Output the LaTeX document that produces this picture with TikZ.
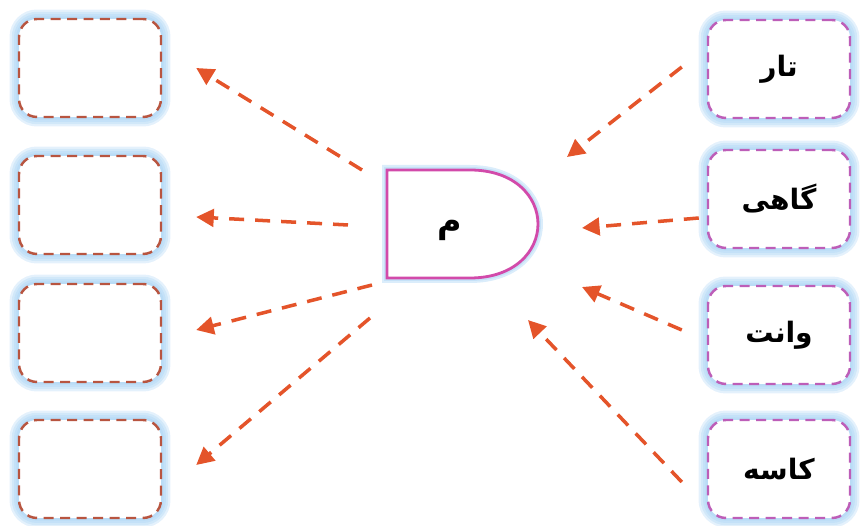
\documentclass[tikz,border=0pt]{standalone}
\usepackage{fontspec}
\newfontfamily\arabicfont[Script=Arabic]{DejaVu Sans}
\TeXXeTstate=1
\usetikzlibrary{arrows.meta, calc}
\definecolor{arrowc}{HTML}{E4542A}
\definecolor{lboxc}{HTML}{B85540}
\definecolor{rboxc}{HTML}{BD5EB8}
\definecolor{dc}{HTML}{D24AAA}
\definecolor{glowc}{HTML}{A6D2F4}
\tikzset{%
	glow/.style = { preaction={draw=glowc, draw opacity=0.3, line width=0.38cm, solid}, preaction={draw=glowc, draw opacity=0.3, line width=0.29cm, solid}, preaction={draw=glowc, draw opacity=0.3, line width=0.2cm, solid}, preaction={draw=glowc, draw opacity=0.35, line width=0.11cm, solid} },
	word/.style = { font=\arabicfont\bfseries\fontsize{16}{19}\selectfont },
	box/.style = { glow, fill=white, rounded corners=0.36cm, minimum width=2.84cm, minimum height=1.96cm, line width=1.4pt, dash pattern=on 0.2cm off 0.13cm },
	lbox/.style = { box, draw=lboxc },
	rbox/.style = { box, word, draw=rboxc },
	dshape/.style = { draw=dc, line width=1.6pt, fill=white, preaction={draw=glowc, draw opacity=0.4, line width=0.2cm}, preaction={draw=glowc, draw opacity=0.4, line width=0.12cm} },
	arr/.style = { arrowc, line width=2pt, dash pattern=on 0.3cm off 0.22cm, -{Triangle[length=10pt,width=10pt]} }
}
\begin{document}
\begin{tikzpicture}[x=0.02cm, y=-0.02cm]
	\useasboundingbox (0,0) rectangle (860,526);
	% 左侧空框
	\node[lbox] (l1) at (90,68) {};
	\node[lbox] (l2) at (90,205) {};
	\node[lbox] (l3) at (90,333) {};
	\node[lbox] (l4) at (90,469) {};
	% 右侧词框
	\node[rbox] (r1) at (779,69) {\beginR تار\endR};
	\node[rbox] (r2) at (779,199) {\beginR گاهی\endR};
	\node[rbox] (r3) at (779,335) {\beginR وانت\endR};
	\node[rbox] (r4) at (779,469) {\beginR کاسه\endR};
	% 中间形状
	\draw[dshape] (387,278) -- (387,170) -- (470,170) .. controls (515,170) and (538,197) .. (538,224) .. controls (538,251) and (515,278) .. (470,278) -- cycle;
	\node[word, font=\arabicfont\bfseries\fontsize{19}{22}\selectfont] (m) at (450,230) {\beginR م\endR};
	% 向左箭头
	\draw[arr] ($(m)+(-88,-60)$) -- ($(l1.east)+(34,0)$);
	\draw[arr] ($(m)+(-102,-5)$) -- ($(l2.east)+(34,12)$);
	\draw[arr] ($(m)+(-78,55)$) -- ($(l3.east)+(34,-3)$);
	\draw[arr] ($(m)+(-80,88)$) -- ($(l4.east)+(34,-4)$);
	% 向中间箭头
	\draw[arr] ($(r1.west)+(-25,-2)$) -- ($(m)+(117,-73)$);
	\draw[arr] ($(r2.west)+(-8,19)$) -- ($(m)+(132,-2)$);
	\draw[arr] ($(r3.west)+(-25,-5)$) -- ($(m)+(132,57)$);
	\draw[arr] ($(r4.west)+(-25,13)$) -- ($(m)+(78,90)$);
\end{tikzpicture}
\end{document}
